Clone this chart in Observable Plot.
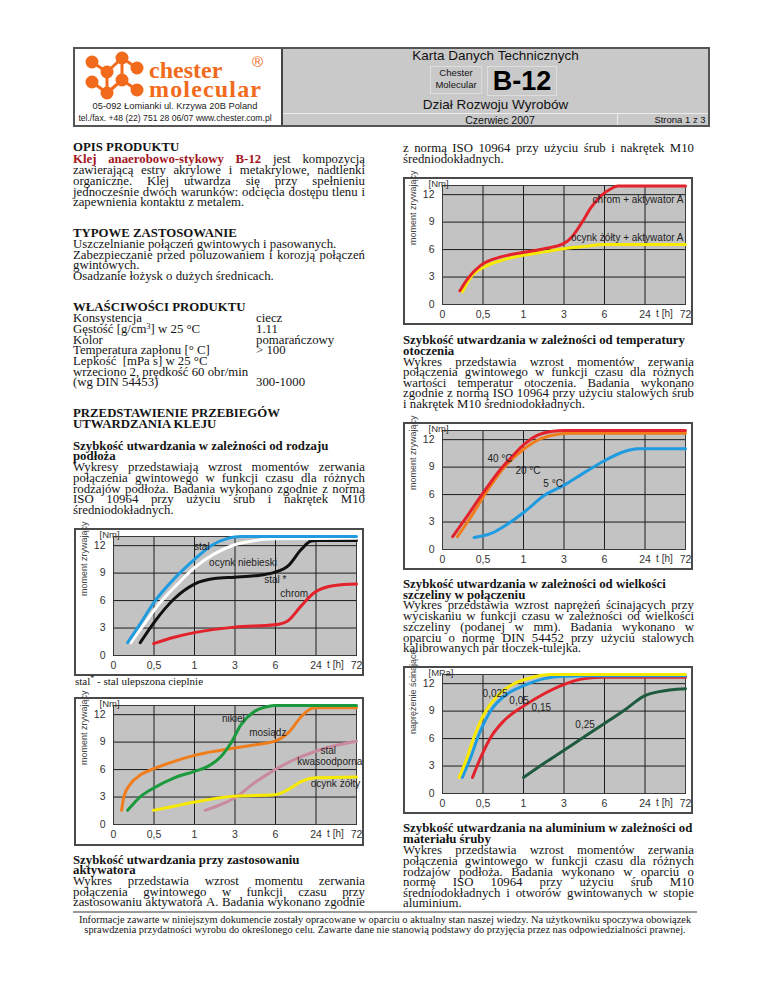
<!DOCTYPE html>
<html><head><meta charset="utf-8">
<script src="https://cdn.jsdelivr.net/npm/d3@7"></script>
<script src="https://cdn.jsdelivr.net/npm/@observablehq/plot@0.6"></script>
<style>
html,body{margin:0;padding:0;background:#fff;}
#page{position:relative;width:768px;height:994px;overflow:hidden;font-family:"Liberation Serif","Times New Roman",serif;color:#141414;}
.ln{position:absolute;white-space:nowrap;font-size:12.8px;line-height:10px;height:10px;}
.ln > span{display:inline-block;height:10px;line-height:10px;vertical-align:top;overflow:visible;}
.j{display:flex;justify-content:space-between;}
.b{font-weight:bold;}
.red{color:#a3161d;font-weight:bold;}
.chart{position:absolute;border:2px solid #4a4a4a;background:#fff;box-sizing:border-box;}
.chart svg{display:block;}
sup{font-size:8px;line-height:0;vertical-align:4px;}
.hd{position:absolute;font-family:"Liberation Sans",Arial,sans-serif;white-space:nowrap;color:#111;}
</style></head><body><div id="page"></div>
<script>
// ---------- chart data (x = position on the time axis 0..6, y = value) ----------
const xTickLabels = ["0", "0,5", "1", "3", "6", "24", "72"];
const yTicks = [0, 3, 6, 9, 12];
const xGrid = [1, 2, 3, 4, 5];
const yGrid = [3, 6, 9, 12];

// Chart: aktywator (top right)
const aktChrom = [[0.43,1.5],[0.62,2.8],[0.95,4.3],[1.44,5.2],[2.02,5.7],[2.51,6.1],[2.99,6.65],[3.2,7.4],[3.42,8.8],[3.67,10.6],[3.92,11.9],[4.16,12.65],[4.33,12.95],[6,12.95]];
const aktOcynk = [[0.49,1.4],[0.7,3.0],[1.03,4.1],[1.44,4.8],[2.02,5.4],[2.51,5.75],[2.99,6.1],[3.5,6.35],[4.0,6.55],[6,6.55]];
const aktLabels = [{x:5.95,y:11.45,t:"chrom + aktywator A"},{x:5.95,y:7.3,t:"ocynk żółty + aktywator A"}];

// Chart: temperatura (middle right)
const temp40 = [[0.25,1.4],[0.54,3.2],[0.99,6.1],[1.44,8.8],[1.77,10.4],[2.02,11.5],[2.35,12.5],[2.68,12.9],[3.0,13.0],[6,13.0]];
const temp20 = [[0.37,1.4],[0.7,3.55],[1.11,6.45],[1.53,9.0],[2.02,11.0],[2.43,12.1],[2.84,12.6],[3.17,12.7],[6,12.7]];
const temp5 = [[0.78,1.3],[1.2,1.75],[1.61,2.8],[2.02,4.1],[2.51,5.9],[2.99,7.0],[3.5,8.4],[4.0,9.7],[4.49,10.7],[4.82,11.0],[6,11.0]];
const tempLabels = [{x:1.11,y:9.9,t:"40 °C"},{x:1.8,y:8.6,t:"20 °C"},{x:2.49,y:7.2,t:"5 °C"}];

// Chart: podłoże (left, upper)
const podStal = [[0.35,1.4],[0.68,3.6],[1.0,5.8],[1.5,8.4],[2.0,10.5],[2.41,12.0],[2.82,12.8],[3.15,13.0],[6,13.0]];
const podOcynkNieb = [[0.43,1.4],[0.76,3.45],[1.09,5.45],[1.58,7.8],[2.0,9.6],[2.49,11.1],[2.99,12.1],[3.48,12.55],[3.98,12.75],[6,12.8]];
const podStalUlep = [[0.66,1.4],[1.0,3.6],[1.5,6.2],[2.0,7.8],[2.49,8.4],[2.99,8.55],[3.48,8.7],[3.99,9.1],[4.31,9.8],[4.64,11.6],[4.88,12.5],[5.0,12.55],[6,12.55]];
const podChrom = [[0.99,1.3],[1.5,2.0],[2.0,2.5],[2.99,3.1],[3.99,3.35],[4.31,3.8],[4.64,5.45],[4.97,6.9],[5.46,7.65],[6,7.8]];
const podLabels = [{x:1.99,y:11.9,t:"stal"},{x:2.36,y:10.1,t:"ocynk niebieski"},{x:3.72,y:8.3,t:"stal *"},{x:4.12,y:6.75,t:"chrom"}];

// Chart: materiał śruby / aluminium (left, lower)
const alMosiadz = [[0.2,1.55],[0.26,3.1],[0.43,4.5],[0.68,5.45],[1.0,6.1],[1.5,6.9],[2.0,7.55],[2.49,8.0],[2.99,8.35],[3.48,8.7],[3.99,9.1],[4.31,10.0],[4.64,11.8],[4.88,12.65],[5.0,12.75],[6,12.75]];
const alNikiel = [[0.35,1.55],[0.68,3.1],[1.0,4.0],[1.5,5.1],[2.0,5.8],[2.33,6.35],[2.66,7.45],[2.9,8.9],[3.15,10.9],[3.48,12.35],[3.81,12.9],[3.99,13.0],[6,13.0]];
const alOcynkZolty = [[0.99,1.55],[1.5,2.0],[2.0,2.45],[2.99,3.1],[3.99,3.25],[4.31,3.8],[4.64,4.7],[5.0,5.1],[6,5.2]];
const alStalKwas = [[2.26,1.55],[2.66,2.2],[2.99,2.9],[3.48,4.55],[3.99,6.0],[4.47,7.1],[5.0,8.0],[5.46,8.6],[6,9.1]];
const alLabels = [{x:2.68,y:11.55,t:"nikiel"},{x:3.35,y:10.0,t:"mosiądz"},{x:5.11,y:8.05,t:"stal"},{x:4.54,y:6.85,t:"kwasoodporna"},{x:4.87,y:4.5,t:"ocynk żółty"}];

// Chart: szczelina (right, lower)
const gap025 = [[0.41,1.75],[0.58,3.6],[0.78,6.2],[1.03,8.7],[1.36,10.7],[1.77,12.0],[2.18,12.65],[2.68,13.0],[6,13.0]];
const gap05 = [[0.49,1.75],[0.7,4.0],[0.91,6.55],[1.2,9.1],[1.61,10.9],[2.02,11.8],[2.51,12.55],[3.01,12.8],[3.67,12.85],[6,12.85]];
const gap15 = [[0.74,1.75],[0.95,4.0],[1.2,6.2],[1.53,8.0],[2.02,9.6],[2.51,10.9],[2.99,11.9],[3.5,12.55],[4.0,12.7],[6,12.7]];
const gap25 = [[2.0,1.75],[2.51,3.3],[2.99,4.7],[3.5,6.2],[4.0,7.65],[4.49,9.1],[5.0,10.7],[5.32,11.1],[6,11.45]];
const gapLabels = [{x:0.99,y:10.9,t:"0,025"},{x:1.65,y:10.15,t:"0,05"},{x:2.2,y:9.4,t:"0,15"},{x:3.28,y:7.5,t:"0,25"}];

const timeUnit = [{x:5.48,t:"t [h]"}];

// ---------- chart builder ----------
function chart({series, labels, anchor, unit, yTitle}) {
  return Plot.plot({
    width: 286, height: 144,
    marginLeft: 37, marginRight: 6, marginTop: 6, marginBottom: 19,
    x: {domain: [0, 6]},
    y: {domain: [0, 13]},
    style: {fontFamily: "Liberation Sans, Arial, sans-serif", fontSize: "10px", background: "#fff", color: "#333", overflow: "visible"},
    marks: [
      Plot.frame({fill: "#c3c3c3"}),
      Plot.gridX(xGrid, {stroke: "#1c1c1c", strokeOpacity: 1}),
      Plot.gridY(yGrid, {stroke: "#1c1c1c", strokeOpacity: 1}),
      Plot.frame({stroke: "#3a3a3a"}),
      ...series.map(s => Plot.line(s.data, {x: d => d[0], y: d => d[1], stroke: s.color, strokeWidth: 3, curve: "monotone-x"})),
      Plot.text(labels, {x: "x", y: "y", text: "t", textAnchor: anchor, fontSize: 10, fill: "#222"}),
      Plot.axisX(d3.range(7), {tickFormat: i => xTickLabels[i], tickSize: 0, tickPadding: 6, fontSize: 10.5, fill: "#333", label: null}),
      Plot.axisY(yTicks, {tickSize: 0, tickPadding: 8, fontSize: 10.5, fill: "#333", label: null}),
      Plot.text(timeUnit, {x: "x", text: "t", frameAnchor: "bottom", dy: 12, fontSize: 10, fill: "#333"}),
      Plot.text([unit], {text: d => d, frameAnchor: "top-left", lineAnchor: "middle", dx: -14, dy: -2, fontSize: 9.5, fill: "#333"}),
      Plot.text([yTitle], {text: d => d, frameAnchor: "left", rotate: -90, dx: -29, fontSize: 9, fill: "#444"})
    ]
  });
}

const page = document.getElementById("page");
function addChart(left, top, h, cfg) {
  const d = document.createElement("div");
  d.className = "chart";
  d.style.left = left + "px"; d.style.top = top + "px";
  d.style.width = "290px"; d.style.height = h + "px";
  d.appendChild(chart(cfg));
  page.appendChild(d);
}

const RED = "#e3222b", YEL = "#f7ea00", BLUE = "#1f9be0", ORG = "#f07d1c", GRN = "#1b9a3d", PINK = "#c98a9f", DGRN = "#1e5a3e";
addChart(403, 177, 148, {series: [{data: aktOcynk, color: YEL}, {data: aktChrom, color: RED}], labels: aktLabels, anchor: "end", unit: "[Nm]", yTitle: "moment zrywający"});
addChart(403, 422, 148, {series: [{data: temp5, color: BLUE}, {data: temp20, color: ORG}, {data: temp40, color: RED}], labels: tempLabels, anchor: "start", unit: "[Nm]", yTitle: "moment zrywający"});
addChart(74, 528, 148, {series: [{data: podChrom, color: RED}, {data: podStalUlep, color: "#111"}, {data: podOcynkNieb, color: "#fff"}, {data: podStal, color: BLUE}], labels: podLabels, anchor: "start", unit: "[Nm]", yTitle: "moment zrywający"});
addChart(74, 697, 149, {series: [{data: alStalKwas, color: PINK}, {data: alOcynkZolty, color: YEL}, {data: alMosiadz, color: ORG}, {data: alNikiel, color: GRN}], labels: alLabels, anchor: "start", unit: "[Nm]", yTitle: "moment zrywający"});
addChart(403, 666, 148, {series: [{data: gap25, color: DGRN}, {data: gap15, color: RED}, {data: gap05, color: BLUE}, {data: gap025, color: YEL}], labels: gapLabels, anchor: "start", unit: "[MPa]", yTitle: "naprężenie ścinające"});

// ---------- text ----------
function line(x, y, w, type, content, extra) {
  const d = document.createElement("div");
  d.className = "ln" + (type === "b" ? " b" : "") + (type === "j" ? " j" : "");
  d.style.left = x + "px"; d.style.top = (y - 5) + "px";
  if (type === "j") {
    d.style.width = w + "px";
    const words = Array.isArray(content) ? content : content.split(" ");
    d.innerHTML = words.map(wd => "<span>" + wd + "</span>").join("");
  } else {
    d.innerHTML = "<span>" + content + "</span>";
  }
  if (extra) Object.assign(d.style, extra);
  page.appendChild(d);
}
const L = 73, LW = 292, R = 403, RW = 291;
const leftLines = [
  [147,"b","OPIS PRODUKTU"],
  [159,"j",['<span class="red">Klej</span>','<span class="red">anaerobowo-stykowy</span>','<span class="red">B-12</span>',"jest","kompozycją"]],
  [170,"j","zawierającą estry akrylowe i metakrylowe, nadtlenki"],
  [181,"j","organiczne. Klej utwardza się przy spełnieniu"],
  [192,"j","jednocześnie dwóch warunków: odcięcia dostępu tlenu i"],
  [202,"p","zapewnienia kontaktu z metalem."],
  [233,"b","TYPOWE ZASTOSOWANIE"],
  [244,"p","Uszczelnianie połączeń gwintowych i pasowanych."],
  [255,"j","Zabezpieczanie przed poluzowaniem i korozją połączeń"],
  [265,"p","gwintowych."],
  [276,"p","Osadzanie łożysk o dużych średnicach."],
  [307,"b","WŁAŚCIWOŚCI PRODUKTU"],
  [318,"p","Konsystencja"],
  [329,"p","Gęstość [g/cm<sup>3</sup>] w 25 °C"],
  [340,"p","Kolor"],
  [350,"p","Temperatura zapłonu [° C]"],
  [361,"p","Lepkość&nbsp;&nbsp;[mPa s] w 25 °C"],
  [372,"p","wrzeciono 2, prędkość 60 obr/min"],
  [382,"p","(wg DIN 54453)"],
  [413,"b","PRZEDSTAWIENIE PRZEBIEGÓW"],
  [424,"b","UTWARDZANIA KLEJU"],
  [446,"b","Szybkość utwardzania w zależności od rodzaju"],
  [456,"b","podłoża"],
  [467,"j","Wykresy przedstawiają wzrost momentów zerwania"],
  [478,"j","połączenia gwintowego w funkcji czasu dla różnych"],
  [489,"j","rodzajów podłoża. Badania wykonano zgodnie z normą"],
  [499,"j","ISO 10964 przy użyciu śrub i nakrętek M10"],
  [510,"p","średniodokładnych."],
  [860,"b","Szybkość utwardzania przy zastosowaniu"],
  [870,"b","aktywatora"],
  [881,"j","Wykres przedstawia wzrost momentu zerwania"],
  [892,"j","połączenia gwintowego w funkcji czasu przy"],
  [902,"j","zastosowaniu aktywatora A. Badania wykonano zgodnie"]
];
leftLines.forEach(([y,t,c]) => line(L, y, LW, t, c));
[[318,"ciecz"],[329,"1.11"],[340,"pomarańczowy"],[350,"&gt; 100"],[382,"300-1000"]].forEach(([y,c]) => line(256, y, 0, "p", c));
line(L + 2, 681, 0, "p", "stal<sup>*</sup> - stal ulepszona cieplnie", {fontSize: "11px"});

const rightLines = [
  [148,"j","z normą ISO 10964 przy użyciu śrub i nakrętek M10"],
  [159,"p","średniodokładnych."],
  [340,"b","Szybkość utwardzania w zależności od temperatury"],
  [351,"b","otoczenia"],
  [362,"j","Wykres przedstawia wzrost momentów zerwania"],
  [372,"j","połączenia gwintowego w funkcji czasu dla różnych"],
  [383,"j","wartości temperatur otoczenia. Badania wykonano"],
  [393,"j","zgodnie z normą ISO 10964 przy użyciu stalowych śrub"],
  [404,"p","i nakrętek M10 średniodokładnych."],
  [584,"b","Szybkość utwardzania w zależności od wielkości"],
  [595,"b","szczeliny w połączeniu"],
  [605,"j","Wykres przedstawia wzrost naprężeń ścinających przy"],
  [616,"j","wyciskaniu w funkcji czasu w zależności od wielkości"],
  [627,"j","szczeliny (podanej w mm). Badania wykonano w"],
  [638,"j","oparciu o normę DIN 54452 przy użyciu stalowych"],
  [648,"p","kalibrowanych par tłoczek-tulejka."],
  [828,"b","Szybkość utwardzania na aluminium w zależności od"],
  [839,"b","materiału śruby"],
  [850,"j","Wykres przedstawia wzrost momentów zerwania"],
  [861,"j","połączenia gwintowego w funkcji czasu dla różnych"],
  [872,"j","rodzajów podłoża. Badania wykonano w oparciu o"],
  [882,"j","normę ISO 10964 przy użyciu śrub M10"],
  [893,"j","średniodokładnych i otworów gwintowanych w stopie"],
  [903,"p","aluminium."]
];
rightLines.forEach(([y,t,c]) => line(R, y, RW, t, c));

// footer
const sep = document.createElement("div");
Object.assign(sep.style, {position:"absolute", left:"73px", top:"911px", width:"624px", height:"2px", background:"#9a9a9a"});
page.appendChild(sep);
[[920,"Informacje zawarte w niniejszym dokumencie zostały opracowane w oparciu o aktualny stan naszej wiedzy. Na użytkowniku spoczywa obowiązek"],
 [930,"sprawdzenia przydatności wyrobu do określonego celu. Zawarte dane nie stanowią podstawy do przyjęcia przez nas odpowiedzialności prawnej."]]
 .forEach(([y,c]) => line(73, y, 0, "p", c, {width:"624px", textAlign:"center", fontSize:"10.4px"}));

// ---------- header ----------
page.insertAdjacentHTML("beforeend", `
<div style="position:absolute;left:73px;top:47px;width:637px;height:80px;border:2px solid #555;box-sizing:border-box;background:#fff"></div>
<div style="position:absolute;left:281px;top:49px;width:427px;height:76px;background:#c9c9c9;border-left:2px solid #444;box-sizing:border-box"></div>
<div style="position:absolute;left:283px;top:113px;width:425px;height:1px;background:#ececec"></div>
<div style="position:absolute;left:617px;top:114px;width:1px;height:11px;background:#ececec"></div>
<div style="position:absolute;left:430px;top:66px;width:52px;height:28px;border:1px solid #ddd;box-sizing:border-box"></div>
<div style="position:absolute;left:487px;top:66px;width:70px;height:30px;border:1px solid #ddd;box-sizing:border-box"></div>
<div class="hd" style="left:283px;width:425px;top:48px;text-align:center;font-size:13.5px;line-height:15px">Karta Danych Technicznych</div>
<div class="hd" style="left:430px;width:52px;top:67px;text-align:center;font-size:9.5px;line-height:12px">Chester<br>Molecular</div>
<div class="hd" style="left:487px;width:70px;top:66px;text-align:center;font-size:27px;line-height:30px;font-weight:bold;color:#000">B-12</div>
<div class="hd" style="left:283px;width:425px;top:97px;text-align:center;font-size:13.5px;line-height:15px">Dział Rozwoju Wyrobów</div>
<div class="hd" style="left:450px;width:100px;top:114px;text-align:center;font-size:10.5px;line-height:12px">Czerwiec 2007</div>
<div class="hd" style="left:630px;width:100px;top:114px;text-align:center;font-size:9.5px;line-height:12px">Strona 1 z 3</div>
<svg style="position:absolute;left:75px;top:49px" width="205" height="76">
  <g stroke="#f26a1b" stroke-width="3">
    <line x1="17" y1="13" x2="32" y2="23"/><line x1="32" y1="23" x2="47" y2="9"/><line x1="47" y1="9" x2="62" y2="19"/>
    <line x1="17" y1="33" x2="32" y2="44"/><line x1="32" y1="44" x2="47" y2="31"/><line x1="47" y1="31" x2="62" y2="41"/>
    <line x1="32" y1="23" x2="32" y2="44"/><line x1="47" y1="9" x2="47" y2="31"/>
  </g>
  <g fill="#f26a1b">
    <circle cx="17" cy="13" r="6.5"/><circle cx="47" cy="9" r="6.5"/><circle cx="32" cy="23" r="6.5"/><circle cx="62" cy="19" r="6.5"/>
    <circle cx="17" cy="33" r="6.5"/><circle cx="47" cy="31" r="6.5"/><circle cx="32" cy="44" r="6.5"/><circle cx="62" cy="41" r="6.5"/>
  </g>
  <text x="74" y="29" font-family="Liberation Serif" font-weight="bold" font-size="24" fill="#f26a1b">chester</text>
  <text x="74" y="48" font-family="Liberation Serif" font-weight="bold" font-size="24" textLength="112" fill="#f26a1b">molecular</text>
  <text x="177" y="18" font-family="Liberation Sans" font-size="15" fill="#f26a1b">®</text>
  <text x="100" y="60" text-anchor="middle" font-family="Liberation Sans" font-size="9.3" fill="#222">05-092 Łomianki ul. Krzywa 20B  Poland</text>
  <text x="100" y="72" text-anchor="middle" font-family="Liberation Sans" font-size="8.6" fill="#222">tel./fax. +48 (22) 751 28 06/07  www.chester.com.pl</text>
</svg>`);
</script>
</body></html>
